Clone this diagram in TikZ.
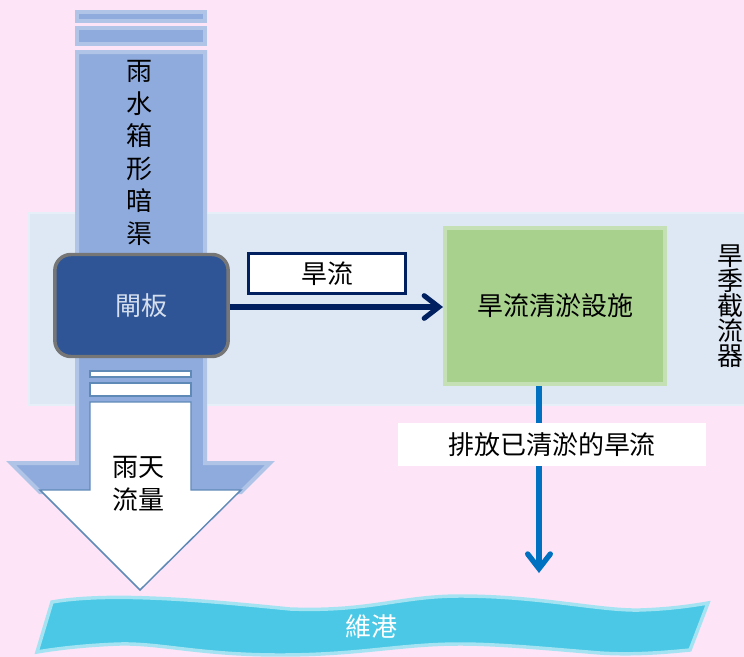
\documentclass[tikz,border=0pt]{standalone}
\usepackage{fontspec}
\setmainfont{Noto Sans CJK TC}
\usetikzlibrary{arrows.meta}
\definecolor{bgpink}{HTML}{FDE4F7}
\definecolor{bandblue}{HTML}{DEE8F5}
\definecolor{bandedge}{HTML}{E6EEF8}
\definecolor{colblue}{HTML}{8FAADC}
\definecolor{coledge}{HTML}{B0C4E8}
\definecolor{arrowedge}{HTML}{5F8AB8}
\definecolor{gateblue}{HTML}{2F5597}
\definecolor{gateedge}{HTML}{767676}
\definecolor{gatetext}{HTML}{D6DFEE}
\definecolor{navy}{HTML}{002060}
\definecolor{greenfill}{HTML}{A9D18E}
\definecolor{greenedge}{HTML}{C5E0B4}
\definecolor{flowblue}{HTML}{0070C0}
\definecolor{harbfill}{HTML}{4BC8E5}
\definecolor{harbedge}{HTML}{A6E3F2}
\tikzset{
  cjk/.style={font=\fontsize{19.5}{24}\selectfont, text=black},
  colpart/.style={fill=colblue, draw=coledge, line width=3pt},
  whitepart/.style={fill=white, draw=arrowedge, line width=1.1pt},
  gatebox/.style={rectangle, rounded corners=12pt, fill=gateblue, draw=gateedge,
    line width=2.6pt, minimum width=130pt, minimum height=76.5pt, inner sep=0pt,
    text=gatetext, font=\fontsize{19.5}{24}\selectfont},
  labelbox/.style={rectangle, fill=white, draw=navy, line width=2.2pt,
    minimum width=117.75pt, minimum height=30pt, inner sep=0pt, cjk},
  greenbox/.style={rectangle, fill=greenfill, draw=greenedge, line width=3pt,
    minimum width=165pt, minimum height=117pt, inner sep=0pt, cjk},
  navyarrow/.style={draw=navy, line width=3.8pt,
    -{Straight Barb[length=11pt, width=17pt, line cap=round]}},
  bluearrow/.style={draw=flowblue, line width=4pt,
    -{Straight Barb[length=11pt, width=17pt, line cap=round]}},
  harbour/.style={fill=harbfill, draw=harbedge, line width=2.6pt},
}
\begin{document}
\begin{tikzpicture}[x=0.75pt,y=-0.75pt]
\useasboundingbox (0,0) rectangle (744,657);
\clip (0,0) rectangle (744,657);
\fill[bgpink] (0,0) rectangle (744,657);
% light band
\path[fill=bandblue, draw=bandedge, line width=2.2pt] (29,213) rectangle (760,405);
% big blue column arrow
\path[colpart] (77,12) rectangle (205,21);
\path[colpart] (77,28) rectangle (205,44);
\path[colpart] (77,52) -- (205,52) -- (205,463) -- (270,463) -- (241,492)
  -- (40,492) -- (11,463) -- (77,463) -- cycle;
% white inner arrow
\path[whitepart] (90,371) rectangle (191,377);
\path[whitepart] (90,383) rectangle (191,396);
\path[whitepart] (90,402) -- (191,402) -- (191,490) -- (241,490) -- (140,590)
  -- (40,490) -- (90,490) -- cycle;
% texts in column
\node[cjk, align=center, font=\fontsize{19.5}{24.4}\selectfont] (coltext) at (139,153)
  {雨\\水\\箱\\形\\暗\\渠};
\node[cjk, align=center, font=\fontsize{19.5}{24.75}\selectfont] (raintext) at (139,484)
  {雨天\\流量};
% gate
\node[gatebox] (gate) at (141.5,305.5) {閘板};
% dry weather flow label and facility
\node[labelbox] (dwflabel) at (327,273.5) {旱流};
\node[greenbox] (green) at (555,306) {旱流清淤設施};
\draw[navyarrow] (gate.east |- 0,307) -- (green.west |- 0,307);
% side label
\node[cjk, align=center, font=\fontsize{19.5}{18.75}\selectfont] (sidetext) at (730,306)
  {旱\\季\\截\\流\\器};
% discharge arrow
\coordinate (dtip) at (539,573);
\draw[bluearrow] (dtip |- green.south) -- (dtip);
\node[fill=white, minimum width=231pt, minimum height=32.25pt, inner sep=0pt, cjk]
  (dlabel) at (552,444.5) {排放已清淤的旱流};
% harbour
\path[harbour] (52,602) .. controls (110,592) and (200,600) .. (290,609)
  .. controls (370,612) and (400,596) .. (460,596)
  .. controls (540,596) and (600,611) .. (640,610)
  .. controls (670,609) and (690,606) .. (708,603)
  -- (690,650)
  .. controls (660,653) and (630,655) .. (600,653)
  .. controls (550,649) and (500,644) .. (460,644)
  .. controls (400,644) and (360,655) .. (280,655)
  .. controls (200,655) and (160,643) .. (120,644)
  .. controls (90,645) and (60,648) .. (37,652) -- cycle;
\node[font=\fontsize{19.5}{24}\selectfont, text=white] (harb) at (371,627) {維港};
\end{tikzpicture}
\end{document}
